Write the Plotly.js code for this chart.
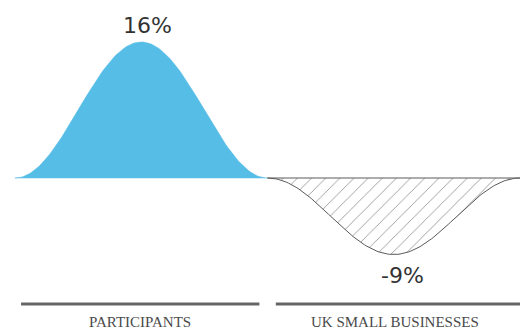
<!DOCTYPE html>
<html>
<head>
<meta charset="utf-8">
<script src="https://cdn.plot.ly/plotly-3.0.1.min.js"></script>
<style>html,body{margin:0;padding:0;background:#fff;}#chart{width:523px;height:329px;}</style>
</head>
<body>
<div id="chart"></div>
<script>
// Data
const categories = ["PARTICIPANTS", "UK SMALL BUSINESSES"];
const values = [16, -9];
const valueLabels = ["16%", "-9%"];

// Styling
const fills = ["#56bde6", "#ffffff"];
const N = 120;

const traces = categories.map((cat, i) => {
  const xs = [], ys = [];
  for (let k = 0; k <= N; k++) {
    const t = k / N;
    xs.push(i - 0.5 + t);
    ys.push(values[i] * (1 - Math.cos(2 * Math.PI * t)) / 2);
  }
  xs.push(i - 0.5); ys.push(0);
  const tr = {
    type: "scatter", mode: "lines", x: xs, y: ys, fill: "toself",
    hoverinfo: "skip", showlegend: false
  };
  if (i === 0) {
    tr.fillcolor = fills[0];
    tr.line = {color: fills[0], width: 0.5};
  } else {
    tr.fillcolor = "rgba(0,0,0,0)";
    tr.fillpattern = {shape: "/", fgcolor: "#8a8a8a", bgcolor: "#ffffff", size: 10, solidity: 0.08};
    tr.line = {color: "#5a5a5a", width: 1};
  }
  return tr;
});

const annotations = [];
categories.forEach((cat, i) => {
  annotations.push({
    x: i, y: values[i], xref: "x", yref: "y", text: valueLabels[i], showarrow: false,
    yanchor: values[i] >= 0 ? "bottom" : "top", yshift: values[i] >= 0 ? 2 : -6,
    xshift: values[i] >= 0 ? 6 : 9,
    font: {family: "DejaVu Sans", size: 22, color: "#333333"}
  });
  annotations.push({
    x: i === 0 ? -0.005 : 1.005, y: -0.155, xref: "x", yref: "paper", text: cat, showarrow: false,
    yanchor: "middle",
    font: {family: "Liberation Serif", size: 15, color: "#4a4a4a"}
  });
});

const shapes = [
  {type: "line", xref: "x", yref: "paper", x0: -0.476, x1: 0.468, y0: -0.088, y1: -0.088, line: {color: "#666666", width: 3}},
  {type: "line", xref: "x", yref: "paper", x0: 0.533, x1: 1.5, y0: -0.088, y1: -0.088, line: {color: "#666666", width: 3}}
];

const layout = {
  width: 523, height: 329,
  margin: {l: 15, r: 3, t: 8, b: 49},
  paper_bgcolor: "#ffffff", plot_bgcolor: "#ffffff",
  xaxis: {range: [-0.5, 1.5], showgrid: false, zeroline: false, showticklabels: false, showline: false, fixedrange: true},
  yaxis: {range: [-12, 20], showgrid: false, zeroline: false, showticklabels: false, showline: false, fixedrange: true},
  annotations: annotations,
  shapes: shapes,
  showlegend: false
};

Plotly.newPlot("chart", traces, layout, {displayModeBar: false, staticPlot: true});
</script>
</body>
</html>
